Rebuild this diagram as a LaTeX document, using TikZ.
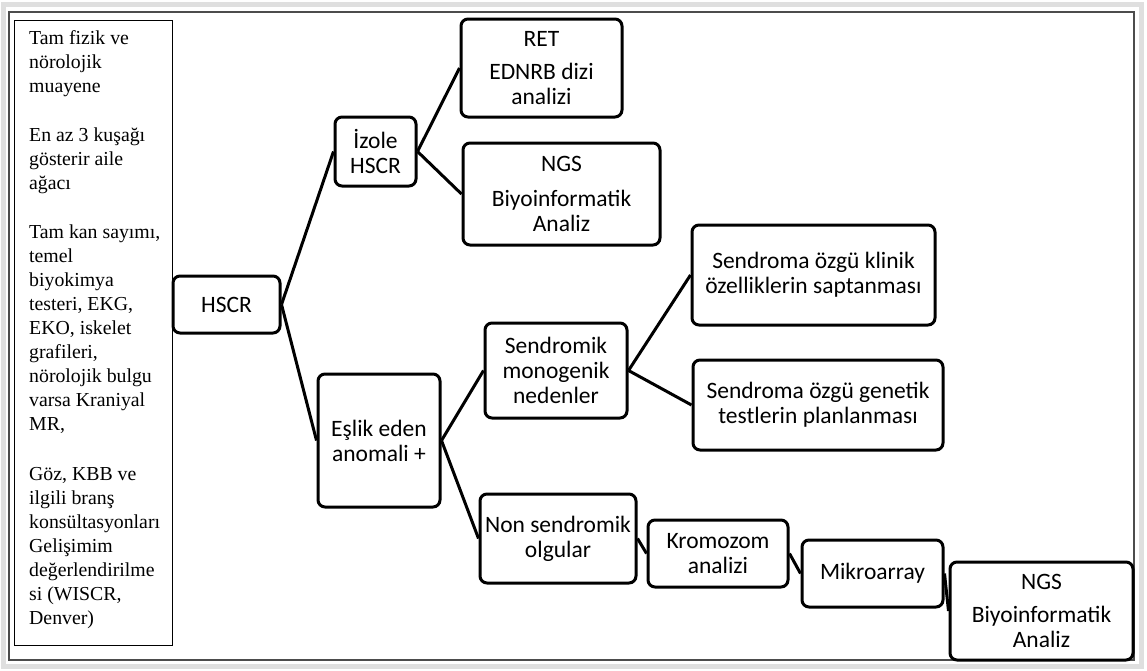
\documentclass[tikz,border=0pt]{standalone}
\usepackage{fontspec}
\setmainfont{Liberation Serif}
\newfontfamily\boxfont{Carlito}

\begin{document}
\begin{tikzpicture} [
  x=1pt, y=-1pt,
  box node/.style= {draw,rounded corners=7pt,line width=3pt,align=center,inner sep=2pt,
    font=\boxfont\fontsize{23.5}{25}\selectfont},
  link/.style= {line width=3pt},
]
\useasboundingbox (0,0) rectangle (1147,670);
% frame of the text box
\draw [gray!25,line width=5pt] (3,4) rectangle (1141,666);
\draw [black!70,line width=2pt] (9,12) rectangle (1134,660);
% left column
\draw [line width=1pt] (14,20) rectangle (172,645);
\node (exams) [anchor=north west,inner sep=0,align=left,font=\fontsize{19.8}{24}\selectfont] at (29,30)
  {Tam fizik ve\\nörolojik\\muayene\\[25pt]
   En az 3 kuşağı\\gösterir aile\\ağacı\\[25pt]
   Tam kan sayımı,\\temel\\biyokimya\\testeri, EKG,\\EKO, iskelet\\grafileri,\\nörolojik bulgu\\varsa Kraniyal\\MR,\\[26pt]
   Göz, KBB ve\\ilgili  branş\\konsültasyonları\\Gelişimim\\değerlendirilme\\si (WISCR,\\Denver)};
% boxes
\node (hscr) [box node,minimum width=107pt,minimum height=57pt] at (226.5,304.5) {HSCR};
\node (izole) [box node,minimum width=81pt,minimum height=69pt] at (375.5,151.5) {İzole\\HSCR};
\node (ret) [box node,minimum width=161pt,minimum height=98pt] at (541.5,68) {RET\\[8pt]EDNRB dizi\\analizi};
\node (ngs1) [box node,minimum width=197pt,minimum height=102pt] at (561.5,194) {NGS\\[10pt]Biyoinformatik\\Analiz};
\node (eslik) [box node,minimum width=122pt,minimum height=133pt] at (379,440.5) {Eşlik eden\\anomali +};
\node (sendromik) [box node,minimum width=142pt,minimum height=95pt] at (556,370.5) {Sendromik\\monogenik\\nedenler};
\node (klinik) [box node,minimum width=243pt,minimum height=100pt] at (813.5,275) {Sendroma özgü klinik\\özelliklerin saptanması};
\node (genetik) [box node,minimum width=250pt,minimum height=90pt] at (818,405) {Sendroma özgü genetik\\testlerin planlanması};
\node (nonsend) [box node,minimum width=156pt,minimum height=89pt] at (558,538.5) {Non sendromik\\olgular};
\node (kromozom) [box node,minimum width=140pt,minimum height=67pt] at (718,553.5) {Kromozom\\analizi};
\node (mikro) [box node,minimum width=141pt,minimum height=67pt] at (872.5,573.5) {Mikroarray};
\node (ngs2) [box node,minimum width=183pt,minimum height=98pt] at (1041.5,611) {NGS\\[8pt]Biyoinformatik\\Analiz};
% connectors
\draw [link] (hscr.east) -- (izole.west);
\draw [link] (hscr.east) -- (eslik.west);
\draw [link] (izole.east) -- (ret.west);
\draw [link] (izole.east) -- (ngs1.west);
\draw [link] (eslik.east) -- (sendromik.west);
\draw [link] (eslik.east) -- (nonsend.west);
\draw [link] (sendromik.east) -- (klinik.west);
\draw [link] (sendromik.east) -- (genetik.west);
\draw [link] (nonsend.east) -- (kromozom.west);
\draw [link] (kromozom.east) -- (mikro.west);
\draw [link] (mikro.east) -- (ngs2.west);
\end{tikzpicture}
\end{document}
